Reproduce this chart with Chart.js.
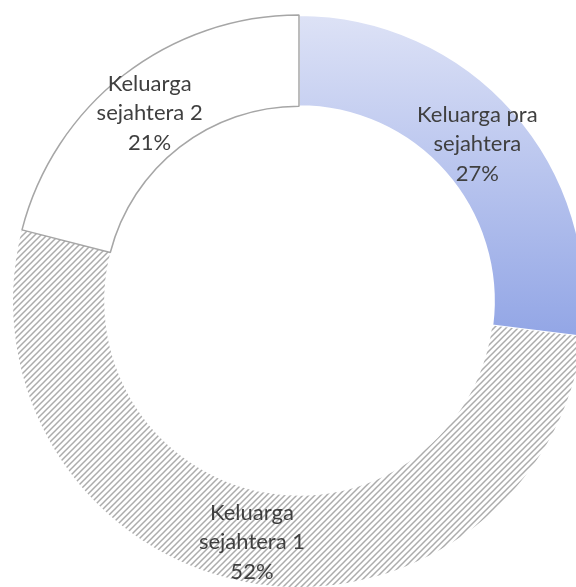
<!DOCTYPE html>
<html>
<head>
<meta charset="utf-8">
<script src="https://cdn.jsdelivr.net/npm/chart.js@4"></script>
<style>
  html, body { margin: 0; padding: 0; background: #ffffff; overflow: hidden; }
  #wrap { width: 576px; height: 587px; overflow: hidden; position: relative; }
  #c { position: absolute; left: 0; top: 0; }
</style>
</head>
<body>
<div id="wrap"><canvas id="c" width="598" height="602"></canvas></div>
<script>
const categories = ["Keluarga pra sejahtera", "Keluarga sejahtera 1", "Keluarga sejahtera 2"];
const labelLines = [["Keluarga pra", "sejahtera"], ["Keluarga", "sejahtera 1"], ["Keluarga", "sejahtera 2"]];
const values = [27, 52, 21];
const percentLabels = ["27%", "52%", "21%"];

const ctx = document.getElementById('c').getContext('2d');

function hatchPattern() {
  const s = 6;
  const p = document.createElement('canvas');
  p.width = s; p.height = s;
  const g = p.getContext('2d');
  g.fillStyle = '#ffffff';
  g.fillRect(0, 0, s, s);
  g.strokeStyle = '#acacac';
  g.lineWidth = 1.5;
  g.beginPath();
  g.moveTo(-1, s + 1); g.lineTo(s + 1, -1);
  g.moveTo(-1, 1); g.lineTo(1, -1);
  g.moveTo(s - 1, s + 1); g.lineTo(s + 1, s - 1);
  g.stroke();
  return ctx.createPattern(p, 'repeat');
}

const blueGrad = ctx.createLinearGradient(0, 15, 0, 330);
blueGrad.addColorStop(0, '#dde2f6');
blueGrad.addColorStop(1, '#94a7e6');

const labelPlugin = {
  id: 'sliceLabels',
  afterDatasetsDraw(chart) {
    const c = chart.ctx;
    const meta = chart.getDatasetMeta(0);
    c.save();
    c.font = '22px Lato, "Open Sans", sans-serif';
    c.fillStyle = '#3f3f3f';
    c.textAlign = 'center';
    c.textBaseline = 'middle';
    const lh = 29.5;
    meta.data.forEach((arc, i) => {
      const pt = arc.getCenterPoint();
      const lines = labelLines[i].concat([percentLabels[i]]);
      const dy = pt.y > chart.chartArea.height / 2 ? 5 : 2;
      const y0 = pt.y + dy - lh * (lines.length - 1) / 2;
      lines.forEach((t, k) => c.fillText(t, pt.x - 2, y0 + k * lh));
    });
    c.restore();
  }
};

new Chart(ctx, {
  type: 'doughnut',
  data: {
    labels: categories,
    datasets: [{
      data: values,
      backgroundColor: [blueGrad, hatchPattern(), '#ffffff'],
      borderColor: ['#ffffff', '#ffffff', '#a6a6a6'],
      borderWidth: [2, 0, 1.5],
      borderAlign: 'center'
    }]
  },
  options: {
    responsive: false,
    animation: false,
    radius: 286,
    cutout: 203,
    layout: { padding: 0 },
    plugins: {
      legend: { display: false },
      tooltip: { enabled: false }
    }
  },
  plugins: [labelPlugin]
});
</script>
</body>
</html>
